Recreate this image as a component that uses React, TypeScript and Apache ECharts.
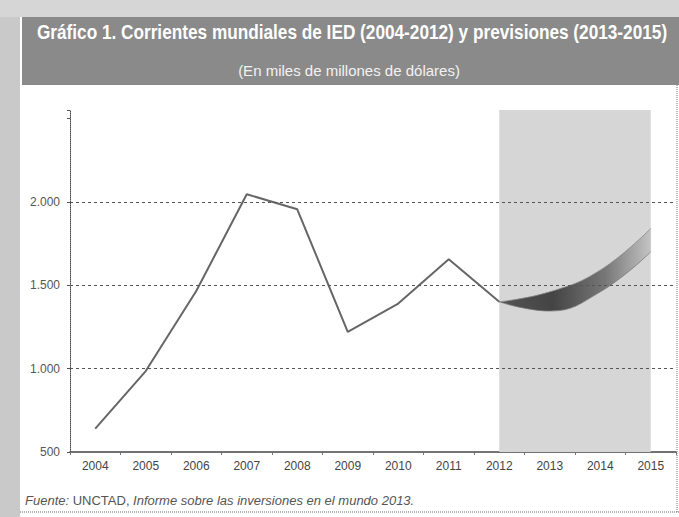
import React, { useEffect, useRef } from "react";
import * as echarts from "echarts";

const years = ["2004", "2005", "2006", "2007", "2008", "2009", "2010", "2011", "2012", "2013", "2014", "2015"];
const fdi = [640, 985, 1465, 2045, 1955, 1220, 1390, 1655, 1400, null, null, null];
const forecastLow = [null, null, null, null, null, null, null, null, 1400, 1345, 1460, 1700];
const forecastHigh = [null, null, null, null, null, null, null, null, 1400, 1460, 1590, 1840];
const gridValues = [1000, 1500, 2000];

const title = "Gráfico 1. Corrientes mundiales de IED (2004-2012) y previsiones (2013-2015)";
const subtitle = "(En miles de millones de dólares)";
const sourceLabel = "Fuente:";
const sourceOrg = "UNCTAD,";
const sourceDoc = "Informe sobre las inversiones en el mundo 2013.";

const SANS = '"Liberation Sans", Arial, sans-serif';

function fmt(v: number): string {
  return String(v).replace(/\B(?=(\d{3})+(?!\d))/g, ".");
}

export default function App() {
  const ref = useRef<HTMLDivElement>(null);
  useEffect(() => {
    if (!ref.current) return;
    const chart = echarts.init(ref.current, null, { renderer: "svg" });
    const bandDiff = forecastHigh.map((h, i) => {
      const l = forecastLow[i];
      return h == null || l == null ? null : h - l;
    });
    chart.setOption({
      animation: false,
      backgroundColor: "#ffffff",
      grid: { left: 70, right: 3, top: 110, bottom: 65 },
      xAxis: {
        type: "category",
        data: years,
        boundaryGap: true,
        axisLine: { lineStyle: { color: "#444", width: 1.5 } },
        axisTick: { show: true, length: 3, lineStyle: { color: "#777" } },
        axisLabel: { color: "#444", fontSize: 12, fontFamily: SANS, margin: 8 },
      },
      yAxis: {
        type: "value",
        min: 500,
        max: 2550,
        interval: 500,
        axisLine: { show: true, lineStyle: { color: "#444", type: "dotted", width: 1 } },
        axisTick: { show: true, length: 3, lineStyle: { color: "#555" } },
        splitLine: { show: false },
        axisLabel: {
          color: "#555",
          fontSize: 12,
          fontFamily: SANS,
          margin: 10,
          formatter: (v: number) => (v <= 2000 ? fmt(v) : ""),
        },
      },
      graphic: [
        { type: "rect", shape: { x: 0, y: 0, width: 20, height: 517 }, style: { fill: "#c9c9c9" }, z: 0 },
        { type: "rect", shape: { x: 0, y: 0, width: 679, height: 17 }, style: { fill: "#d6d6d6" }, z: 0 },
        { type: "rect", shape: { x: 22, y: 17, width: 657, height: 68 }, style: { fill: "#8a8a8a" }, z: 1 },
        {
          type: "text",
          x: 352,
          y: 32,
          scaleX: 0.82,
          style: {
            text: title,
            fill: "#ffffff",
            font: `bold 21px ${SANS}`,
            align: "center",
            verticalAlign: "middle",
          },
          z: 2,
        },
        {
          type: "text",
          x: 349,
          y: 70,
          style: {
            text: subtitle,
            fill: "#f2f2f2",
            font: `15px ${SANS}`,
            align: "center",
            verticalAlign: "middle",
          },
          z: 2,
        },
        {
          type: "text",
          x: 25,
          y: 500,
          style: {
            text: `{i|${sourceLabel}} {n|${sourceOrg}} {i|${sourceDoc}}`,
            fill: "#555",
            font: `13px ${SANS}`,
            align: "left",
            verticalAlign: "middle",
            rich: {
              i: { fontStyle: "italic", fontSize: 13, fontFamily: SANS, fill: "#555" },
              n: { fontSize: 13, fontFamily: SANS, fill: "#555" },
            },
          },
          z: 2,
        },
        {
          type: "line",
          shape: { x1: 20, y1: 512, x2: 679, y2: 512 },
          style: { stroke: "#666", lineWidth: 1, lineDash: [1, 1] },
          z: 2,
        },
        {
          type: "line",
          shape: { x1: 677, y1: 85, x2: 677, y2: 512 },
          style: { stroke: "#777", lineWidth: 1, lineDash: [1, 1] },
          z: 2,
        },
      ],
      series: [
        {
          name: "zona",
          type: "line",
          data: [],
          z: 1,
          markArea: {
            silent: true,
            itemStyle: { color: "#d6d6d6" },
            data: [[{ xAxis: "2012" }, { xAxis: "2015" }]],
          },
          markLine: {
            silent: true,
            symbol: "none",
            label: { show: false },
            lineStyle: { color: "#555", type: [3, 3], width: 1 },
            data: gridValues.map((v) => ({ yAxis: v })),
          },
        },
        {
          name: "bajo",
          type: "line",
          data: forecastLow,
          stack: "prev",
          smooth: 0.45,
          symbol: "none",
          lineStyle: { color: "#777", width: 0.8 },
          z: 3,
        },
        {
          name: "banda",
          type: "line",
          data: bandDiff,
          stack: "prev",
          smooth: 0.45,
          symbol: "none",
          lineStyle: { color: "#888", width: 0.8 },
          areaStyle: {
            opacity: 1,
            color: new echarts.graphic.LinearGradient(0, 0, 1, 0, [
              { offset: 0, color: "#555555" },
              { offset: 0.35, color: "#444444" },
              { offset: 0.7, color: "#777777" },
              { offset: 1, color: "#c4c4c4" },
            ]),
          },
          z: 3,
        },
        {
          name: "IED",
          type: "line",
          data: fdi,
          symbol: "none",
          lineStyle: { color: "#666", width: 2 },
          z: 4,
        },
      ],
    });
    return () => chart.dispose();
  }, []);
  return <div ref={ref} style={{ width: 679, height: 517, position: "absolute", left: 0, top: 0 }} />;
}
